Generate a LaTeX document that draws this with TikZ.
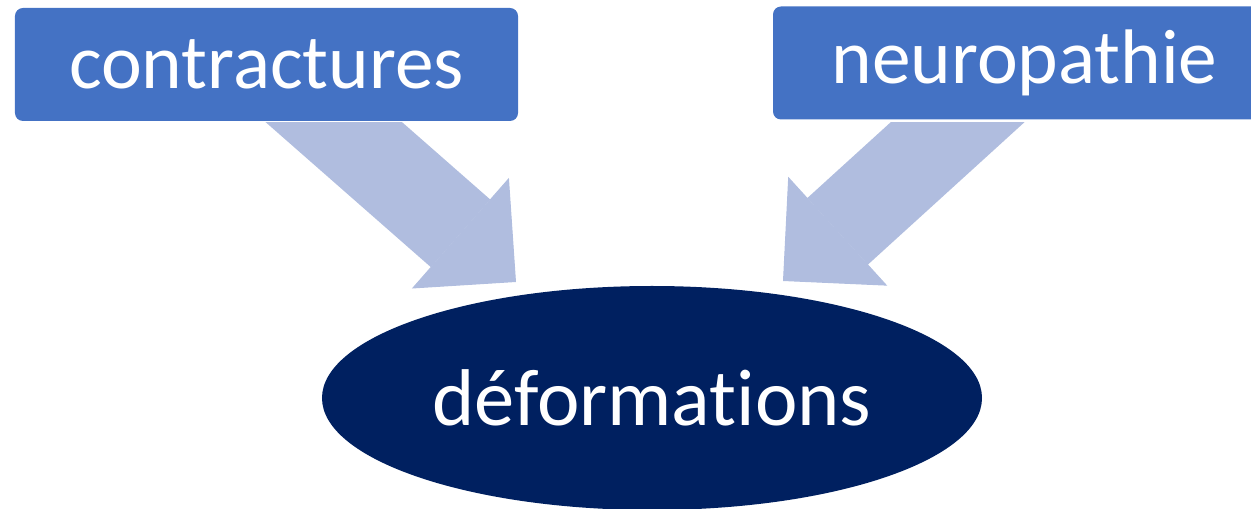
\documentclass[tikz,border=0pt]{standalone}
\usepackage{fontspec}
\setmainfont{Carlito}[Ligatures = NoCommon]
\usepackage{tikz}
\usetikzlibrary{arrows.meta}
\usetikzlibrary{shapes.geometric}

\definecolor{boxblue}{HTML}{4472C4}
\definecolor{arrowblue}{HTML}{B0BDDF}
\definecolor{darknavy}{HTML}{002060}

\tikzset{
    cause/.style = {fill = boxblue, rounded corners = 1.6mm, minimum width = 100.6mm,
        minimum height = 22.6mm, inner sep = 0pt, text = white,
        font = \fontsize{44}{50}\selectfont},
    effect/.style = {ellipse, fill = darknavy, minimum width = 132mm,
        minimum height = 44.8mm, inner sep = 0pt, text = white,
        font = \fontsize{45.8}{52}\selectfont},
    bigarrow/.style = {arrowblue, line width = 18mm,
        -{Triangle[width = 29.4mm, length = 14.8mm, line width = 0.6pt]}}
}

\begin{document}
\begin{tikzpicture}[x = 0.2mm, y = -0.2mm]
\useasboundingbox (0,0) rectangle (1251,509);

    % Causes
\node[cause] (contr) at (266.5,64.5) {contractures};
\node[cause] (neuro) at (1024.5,63) {neuropathie};

    % Effect
\node[effect] (deform) at (652,398) {déformations};


\coordinate (tailL) at (263,60);
\coordinate (tipL) at (516,282);

\coordinate (tailR) at (1026,60);
\coordinate (tipR) at (783,281);

\begin{scope}
\clip (0,123) rectangle (1251,509);
\draw[bigarrow] (tailL) -- (tipL);
\draw[bigarrow] (tailR) -- (tipR);
\end{scope}

\end{tikzpicture}
\end{document}
